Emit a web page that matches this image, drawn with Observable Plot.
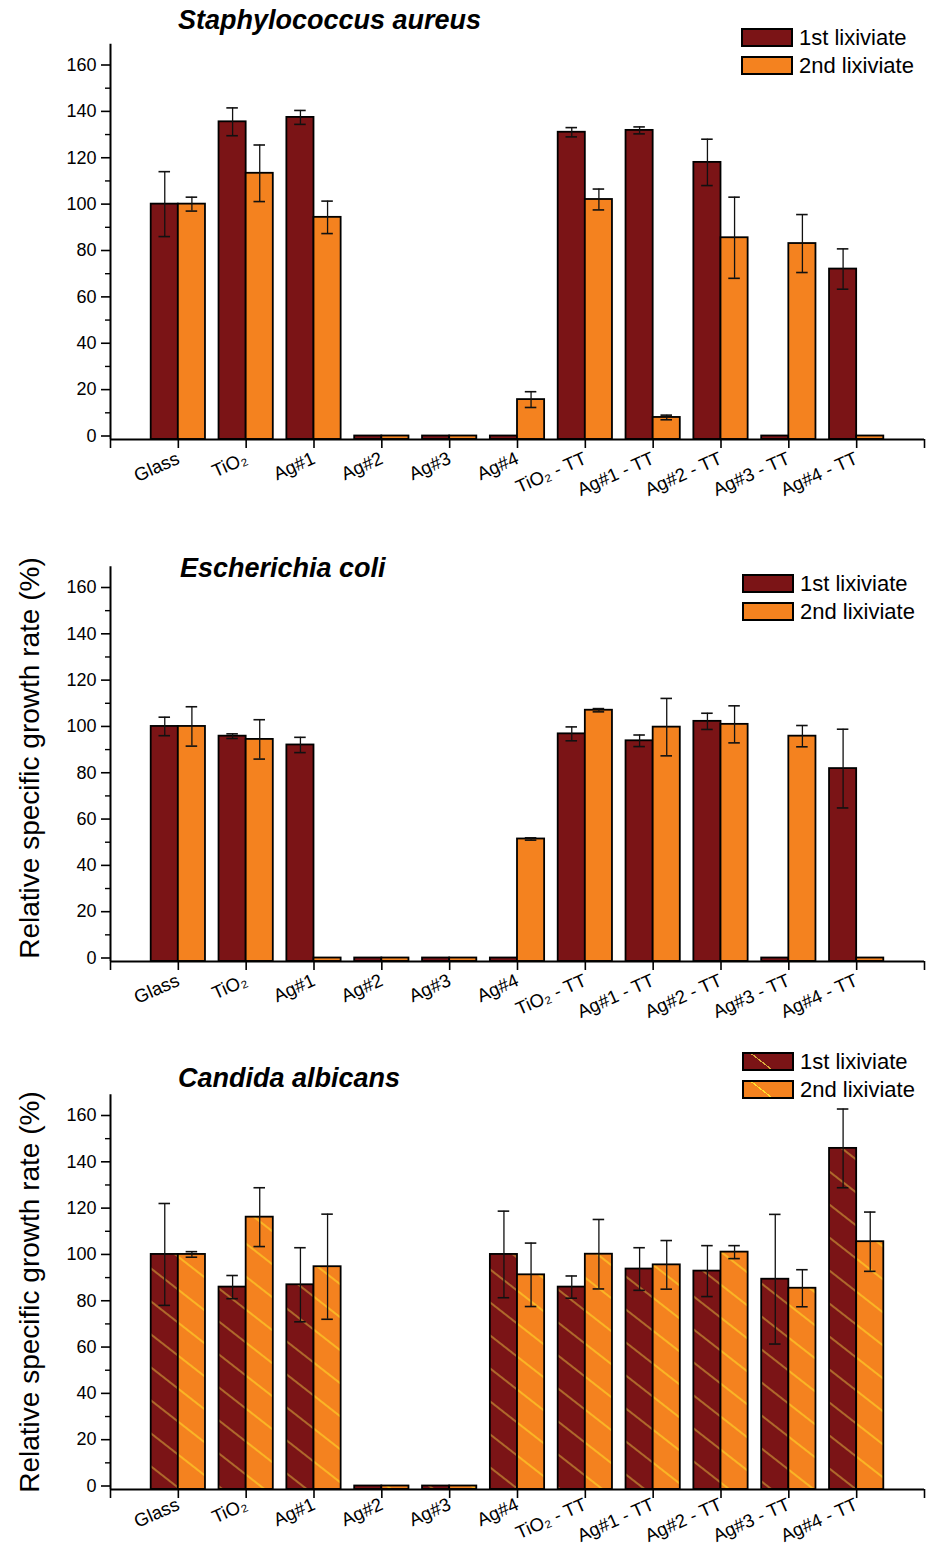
<!DOCTYPE html>
<html>
<head>
<meta charset="utf-8">
<script src="https://cdn.jsdelivr.net/npm/d3@7"></script>
<script src="https://cdn.jsdelivr.net/npm/@observablehq/plot@0.6"></script>
<style>
  body { margin: 0; background: #fff; }
  #root { position: relative; width: 930px; height: 1547px; overflow: hidden; font-family: "Liberation Sans", Arial, sans-serif; color: #000; }
  .panel { position: absolute; left: 0; }
  .title { position: absolute; font-weight: bold; font-style: italic; font-size: 27px; line-height: 27px; white-space: nowrap; }
  .leg { position: absolute; display: flex; align-items: center; height: 19px; white-space: nowrap; font-size: 22px; line-height: 19px; }
  .sw { width: 48px; height: 15px; border: 2px solid #000; margin-right: 6px; box-sizing: content-box; }
  .ylab { position: absolute; font-size: 28px; line-height: 30px; white-space: nowrap; transform: translate(-50%, -50%) rotate(-90deg); }
</style>
</head>
<body>
<div id="root"></div>
<script>
// ---------- data ----------
const categories = ["Glass", "TiO₂", "Ag#1", "Ag#2", "Ag#3", "Ag#4", "TiO₂ - TT", "Ag#1 - TT", "Ag#2 - TT", "Ag#3 - TT", "Ag#4 - TT"];
const seriesNames = ["1st lixiviate", "2nd lixiviate"];
const yTicks = [0, 20, 40, 60, 80, 100, 120, 140, 160];
const yMinorTicks = [10, 30, 50, 70, 90, 110, 130, 150];
const yLabel = "Relative specific growth rate (%)";

const panelTitles = ["Staphylococcus aureus", "Escherichia coli", "Candida albicans"];

const saureus1 = [100, 135.5, 137.4, 0, 0, 0, 131, 131.8, 118, 0, 72];
const saureus1Err = [14, 6, 3, 0, 0, 0, 2, 1.5, 10, 0, 8.7];
const saureus2 = [100, 113.3, 94.3, 0, 0, 15.7, 102, 8, 85.5, 83, 0];
const saureus2Err = [3, 12.2, 7, 0, 0, 3.4, 4.5, 1, 17.5, 12.5, 0];

const ecoli1 = [100, 95.8, 92, 0, 0, 0, 96.8, 93.8, 102.2, 0, 81.8];
const ecoli1Err = [4, 1, 3.3, 0, 0, 0, 3, 2.5, 3.5, 0, 17];
const ecoli2 = [100, 94.4, 0, 0, 0, 51.4, 107, 99.7, 100.9, 95.8, 0];
const ecoli2Err = [8.5, 8.5, 0, 0, 0, 0.5, 0.7, 12.4, 8, 4.6, 0];

const calb1 = [100, 85.9, 86.9, 0, 0, 100, 85.9, 93.7, 92.8, 89.3, 145.8];
const calb1Err = [22, 5, 16, 0, 0, 18.7, 4.8, 9.2, 11, 28, 17];
const calb2 = [100, 116.1, 94.7, 0, 0, 91.2, 100.1, 95.5, 101, 85.4, 105.5];
const calb2Err = [1.2, 12.7, 22.7, 0, 0, 13.7, 15, 10.5, 2.8, 8, 12.8];

const colors = ["#7b1416", "#f4821f"];
const hatchColors = ["#d9ad3c", "#ffe02a"];

// ---------- layout ----------
const root = document.getElementById("root");
const font = "'Liberation Sans', Arial, sans-serif";

function addDiv(cls, style, text) {
  const d = document.createElement("div");
  d.className = cls;
  Object.assign(d.style, style);
  if (text != null) d.textContent = text;
  root.appendChild(d);
  return d;
}

function panel(cfg) {
  const {v1, e1, v2, e2, svgTop, height, y0px, y160px, hatch, xPad} = cfg;
  const base = -1.5, yMax = 169;
  const k = (y0px - y160px) / 160;
  const yTopPx = y0px - yMax * k - svgTop;
  const yBotPx = y0px - base * k - svgTop;
  const W = 0.4;
  const rows = [];
  categories.forEach((c, i) => {
    rows.push({pos: i + 1, x1: i + 1 - W, x2: i + 1, s: 0, v: v1[i], e: e1[i]});
    rows.push({pos: i + 1, x1: i + 1, x2: i + 1 + W, s: 1, v: v2[i], e: e2[i]});
  });
  const errRows = rows.filter(d => d.e > 0);
  const caps = errRows.flatMap(d => [{c: (d.x1 + d.x2) / 2, y: d.v + d.e}, {c: (d.x1 + d.x2) / 2, y: d.v - d.e}]);
  const fills = hatch ? ["url(#hatch0)", "url(#hatch1)"] : colors;
  const capHalf = 0.085;

  const svg = Plot.plot({
    width: 930,
    height,
    marginLeft: 110,
    marginRight: 6,
    marginTop: yTopPx,
    marginBottom: height - yBotPx,
    x: {type: "linear", domain: [0, 12]},
    y: {domain: [base, yMax]},
    style: {fontFamily: font, background: "transparent", color: "#000", overflow: "visible"},
    marks: [
      Plot.rectY(rows.filter(d => d.s === 0), {x1: "x1", x2: "x2", y1: () => base, y2: "v", fill: fills[0], stroke: "#000", strokeWidth: 1.8}),
      Plot.rectY(rows.filter(d => d.s === 1), {x1: "x1", x2: "x2", y1: () => base, y2: "v", fill: fills[1], stroke: "#000", strokeWidth: 1.8}),
      Plot.ruleX(errRows, {x: d => (d.x1 + d.x2) / 2, y1: d => d.v - d.e, y2: d => d.v + d.e, stroke: "#111", strokeWidth: 1.3}),
      Plot.ruleY(caps, {y: "y", x1: d => d.c - capHalf, x2: d => d.c + capHalf, stroke: "#111", strokeWidth: 1.6}),
      Plot.ruleX([0], {stroke: "#000", strokeWidth: 2}),
      Plot.ruleY([base], {stroke: "#000", strokeWidth: 2}),
      Plot.axisY({ticks: yTicks, tickSize: 9, tickPadding: 5, label: null, fontSize: 18, strokeWidth: 1.6}),
      Plot.axisY({ticks: yMinorTicks, tickSize: 5, tickFormat: () => "", label: null, strokeWidth: 1.4}),
      Plot.axisX({ticks: d3.range(1, 12), tickFormat: i => categories[i - 1], tickRotate: -24, tickSize: 9, tickPadding: xPad, label: null, fontSize: 18.5, strokeWidth: 1.6}),
      Plot.axisX({ticks: [0, 12], tickFormat: () => "", tickSize: 9, label: null, strokeWidth: 1.6})
    ]
  });
  svg.classList.add("panel");
  svg.style.top = svgTop + "px";
  if (hatch) {
    const defs = d3.select(svg).insert("defs", ":first-child");
    colors.forEach((c, j) => {
      const p = defs.append("pattern")
        .attr("id", "hatch" + j)
        .attr("patternUnits", "userSpaceOnUse")
        .attr("width", 12).attr("height", 26)
        .attr("patternTransform", "rotate(38)");
      p.append("rect").attr("width", 12).attr("height", 26).attr("fill", c);
      p.append("line").attr("x1", 0).attr("x2", 12).attr("y1", 13).attr("y2", 13)
        .attr("stroke", hatchColors[j]).attr("stroke-width", 1.1);
    });
  }
  root.appendChild(svg);
}

panel({v1: saureus1, e1: saureus1Err, v2: saureus2, e2: saureus2Err, svgTop: 0, height: 515, y0px: 435.5, y160px: 64.5, hatch: false, xPad: 9});
panel({v1: ecoli1, e1: ecoli1Err, v2: ecoli2, e2: ecoli2Err, svgTop: 515, height: 520, y0px: 957.5, y160px: 587, hatch: false, xPad: 9});
panel({v1: calb1, e1: calb1Err, v2: calb2, e2: calb2Err, svgTop: 1035, height: 512, y0px: 1485.5, y160px: 1115, hatch: true, xPad: 5});

// titles
addDiv("title", {left: "178px", top: "7px"}, panelTitles[0]);
addDiv("title", {left: "180px", top: "555px"}, panelTitles[1]);
addDiv("title", {left: "178px", top: "1065px"}, panelTitles[2]);

// legends
function legend(left, top, hatch) {
  seriesNames.forEach((name, j) => {
    const row = addDiv("leg", {left: left + "px", top: (top + j * 28) + "px"});
    const sw = document.createElement("div");
    sw.className = "sw";
    if (hatch) {
      sw.style.background = `repeating-linear-gradient(38deg, ${colors[j]} 0px, ${colors[j]} 16px, ${hatchColors[j]} 16px, ${hatchColors[j]} 17.2px, ${colors[j]} 17.2px, ${colors[j]} 30px)`;
    } else {
      sw.style.background = colors[j];
    }
    row.appendChild(sw);
    const t = document.createElement("span");
    t.textContent = name;
    row.appendChild(t);
  });
}
legend(741, 28, false);
legend(742, 574, false);
legend(742, 1052, true);

// y-axis titles
addDiv("ylab", {left: "30px", top: "758px"}, yLabel);
addDiv("ylab", {left: "30px", top: "1292px"}, yLabel);
</script>
</body>
</html>
